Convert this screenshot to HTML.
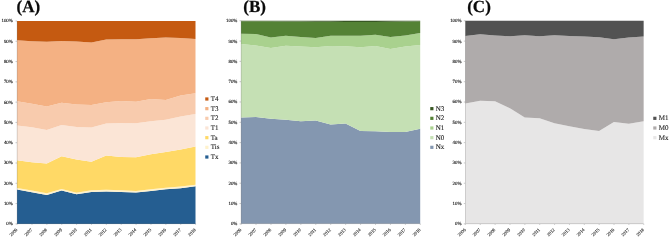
<!DOCTYPE html><html><head><meta charset="utf-8"><title>Figure</title><style>html,body{margin:0;padding:0;background:#fff}svg{display:block}text{font-family:"Liberation Serif",serif;text-rendering:geometricPrecision}.s{stroke:#1a1a1a;stroke-width:.13}.t{stroke:#1a1a1a;stroke-width:.1}.x{stroke:#1a1a1a;stroke-width:.11}</style></head><body>
<svg width="671" height="240" viewBox="0 0 671 240">
<rect width="671" height="240" fill="#fff"/>
<path d="M15.50 223.85H17.00M15.50 203.56H17.00M15.50 183.28H17.00M15.50 163.00H17.00M15.50 142.71H17.00M15.50 122.42H17.00M15.50 102.14H17.00M15.50 81.86H17.00M15.50 61.57H17.00M15.50 41.28H17.00M15.50 21.00H17.00M17.10 223.75V224.85M31.98 223.75V224.85M46.85 223.75V224.85M61.73 223.75V224.85M76.60 223.75V224.85M91.47 223.75V224.85M106.35 223.75V224.85M121.22 223.75V224.85M136.10 223.75V224.85M150.97 223.75V224.85M165.85 223.75V224.85M180.72 223.75V224.85M195.60 223.75V224.85" fill="none" stroke="#888" stroke-width="0.45"/>
<polygon fill="#255E91" points="17.00,189.60 31.88,192.20 46.75,195.00 61.62,190.60 76.50,194.30 91.38,192.00 106.25,191.45 121.12,192.00 136.00,192.60 150.88,190.90 165.75,189.30 180.62,188.20 195.50,186.30 195.50,223.90 180.62,223.90 165.75,223.90 150.88,223.90 136.00,223.90 121.12,223.90 106.25,223.90 91.38,223.90 76.50,223.90 61.62,223.90 46.75,223.90 31.88,223.90 17.00,223.90"/>
<polygon fill="#FFF2CC" points="17.00,187.95 31.88,190.55 46.75,193.35 61.62,188.95 76.50,192.65 91.38,190.35 106.25,189.80 121.12,190.35 136.00,190.95 150.88,189.25 165.75,187.65 180.62,186.55 195.50,184.65 195.50,186.30 180.62,188.20 165.75,189.30 150.88,190.90 136.00,192.60 121.12,192.00 106.25,191.45 91.38,192.00 76.50,194.30 61.62,190.60 46.75,195.00 31.88,192.20 17.00,189.60"/>
<polygon fill="#FFD966" points="17.00,160.30 31.88,162.30 46.75,163.50 61.62,156.30 76.50,159.45 91.38,161.70 106.25,155.60 121.12,156.90 136.00,157.20 150.88,154.30 165.75,151.90 180.62,149.45 195.50,146.60 195.50,184.65 180.62,186.55 165.75,187.65 150.88,189.25 136.00,190.95 121.12,190.35 106.25,189.80 91.38,190.35 76.50,192.65 61.62,188.95 46.75,193.35 31.88,190.55 17.00,187.95"/>
<polygon fill="#FBE5D6" points="17.00,125.45 31.88,127.30 46.75,129.90 61.62,124.90 76.50,126.90 91.38,127.60 106.25,123.40 121.12,122.90 136.00,123.30 150.88,121.20 165.75,119.70 180.62,116.45 195.50,113.90 195.50,146.60 180.62,149.45 165.75,151.90 150.88,154.30 136.00,157.20 121.12,156.90 106.25,155.60 91.38,161.70 76.50,159.45 61.62,156.30 46.75,163.50 31.88,162.30 17.00,160.30"/>
<polygon fill="#F8CBAD" points="17.00,101.30 31.88,103.70 46.75,106.60 61.62,102.70 76.50,104.45 91.38,104.90 106.25,102.30 121.12,100.90 136.00,101.70 150.88,98.90 165.75,99.90 180.62,95.60 195.50,93.20 195.50,113.90 180.62,116.45 165.75,119.70 150.88,121.20 136.00,123.30 121.12,122.90 106.25,123.40 91.38,127.60 76.50,126.90 61.62,124.90 46.75,129.90 31.88,127.30 17.00,125.45"/>
<polygon fill="#F4B183" points="17.00,40.30 31.88,41.30 46.75,41.70 61.62,41.00 76.50,41.45 91.38,42.45 106.25,39.60 121.12,39.30 136.00,39.30 150.88,38.20 165.75,37.45 180.62,37.90 195.50,38.90 195.50,93.20 180.62,95.60 165.75,99.90 150.88,98.90 136.00,101.70 121.12,100.90 106.25,102.30 91.38,104.90 76.50,104.45 61.62,102.70 46.75,106.60 31.88,103.70 17.00,101.30"/>
<polygon fill="#C55A11" points="17.00,21.00 31.88,21.00 46.75,21.00 61.62,21.00 76.50,21.00 91.38,21.00 106.25,21.00 121.12,21.00 136.00,21.00 150.88,21.00 165.75,21.00 180.62,21.00 195.50,21.00 195.50,38.90 180.62,37.90 165.75,37.45 150.88,38.20 136.00,39.30 121.12,39.30 106.25,39.60 91.38,42.45 76.50,41.45 61.62,41.00 46.75,41.70 31.88,41.30 17.00,40.30"/>
<path d="M17.20 21.00V223.70H195.50" fill="none" stroke="#7a7a7a" stroke-opacity=".36" stroke-width="0.8"/>
<text x="12.80" y="225.30" font-size="4.85" text-anchor="end" fill="#1a1a1a" class="s">0%</text>
<text x="12.80" y="205.01" font-size="4.85" text-anchor="end" fill="#1a1a1a" class="s">10%</text>
<text x="12.80" y="184.73" font-size="4.85" text-anchor="end" fill="#1a1a1a" class="s">20%</text>
<text x="12.80" y="164.44" font-size="4.85" text-anchor="end" fill="#1a1a1a" class="s">30%</text>
<text x="12.80" y="144.16" font-size="4.85" text-anchor="end" fill="#1a1a1a" class="s">40%</text>
<text x="12.80" y="123.88" font-size="4.85" text-anchor="end" fill="#1a1a1a" class="s">50%</text>
<text x="12.80" y="103.59" font-size="4.85" text-anchor="end" fill="#1a1a1a" class="s">60%</text>
<text x="12.80" y="83.31" font-size="4.85" text-anchor="end" fill="#1a1a1a" class="s">70%</text>
<text x="12.80" y="63.02" font-size="4.85" text-anchor="end" fill="#1a1a1a" class="s">80%</text>
<text x="12.80" y="42.73" font-size="4.85" text-anchor="end" fill="#1a1a1a" class="s">90%</text>
<text x="12.80" y="22.45" font-size="4.85" text-anchor="end" fill="#1a1a1a" class="s">100%</text>
<text transform="translate(17.70,230.10) rotate(-45)" font-size="4.55" text-anchor="end" fill="#1a1a1a" class="x">2006</text>
<text transform="translate(32.58,230.10) rotate(-45)" font-size="4.55" text-anchor="end" fill="#1a1a1a" class="x">2007</text>
<text transform="translate(47.45,230.10) rotate(-45)" font-size="4.55" text-anchor="end" fill="#1a1a1a" class="x">2008</text>
<text transform="translate(62.33,230.10) rotate(-45)" font-size="4.55" text-anchor="end" fill="#1a1a1a" class="x">2009</text>
<text transform="translate(77.20,230.10) rotate(-45)" font-size="4.55" text-anchor="end" fill="#1a1a1a" class="x">2010</text>
<text transform="translate(92.08,230.10) rotate(-45)" font-size="4.55" text-anchor="end" fill="#1a1a1a" class="x">2011</text>
<text transform="translate(106.95,230.10) rotate(-45)" font-size="4.55" text-anchor="end" fill="#1a1a1a" class="x">2012</text>
<text transform="translate(121.83,230.10) rotate(-45)" font-size="4.55" text-anchor="end" fill="#1a1a1a" class="x">2013</text>
<text transform="translate(136.70,230.10) rotate(-45)" font-size="4.55" text-anchor="end" fill="#1a1a1a" class="x">2014</text>
<text transform="translate(151.57,230.10) rotate(-45)" font-size="4.55" text-anchor="end" fill="#1a1a1a" class="x">2015</text>
<text transform="translate(166.45,230.10) rotate(-45)" font-size="4.55" text-anchor="end" fill="#1a1a1a" class="x">2016</text>
<text transform="translate(181.32,230.10) rotate(-45)" font-size="4.55" text-anchor="end" fill="#1a1a1a" class="x">2017</text>
<text transform="translate(196.20,230.10) rotate(-45)" font-size="4.55" text-anchor="end" fill="#1a1a1a" class="x">2018</text>
<text x="16.6" y="11.6" font-size="17" font-weight="bold" fill="#0a0a0a" stroke="#0a0a0a" stroke-width=".25">(A)</text>
<rect x="205.25" y="97.39" width="3.2" height="3.2" fill="#C55A11"/>
<text x="210.70" y="101.04" font-size="7" fill="#1a1a1a" class="t">T4</text>
<rect x="205.25" y="107.06" width="3.2" height="3.2" fill="#F4B183"/>
<text x="210.70" y="110.71" font-size="7" fill="#1a1a1a" class="t">T3</text>
<rect x="205.25" y="116.73" width="3.2" height="3.2" fill="#F8CBAD"/>
<text x="210.70" y="120.38" font-size="7" fill="#1a1a1a" class="t">T2</text>
<rect x="205.25" y="126.40" width="3.2" height="3.2" fill="#FBE5D6"/>
<text x="210.70" y="130.05" font-size="7" fill="#1a1a1a" class="t">T1</text>
<rect x="205.25" y="136.07" width="3.2" height="3.2" fill="#FFD966"/>
<text x="210.70" y="139.72" font-size="7" fill="#1a1a1a" class="t">Ta</text>
<rect x="205.25" y="145.74" width="3.2" height="3.2" fill="#FFF2CC"/>
<text x="210.70" y="149.39" font-size="7" fill="#1a1a1a" class="t">Tis</text>
<rect x="205.25" y="155.41" width="3.2" height="3.2" fill="#255E91"/>
<text x="210.70" y="159.06" font-size="7" fill="#1a1a1a" class="t">Tx</text>
<path d="M239.50 223.85H241.00M239.50 203.54H241.00M239.50 183.23H241.00M239.50 162.92H241.00M239.50 142.61H241.00M239.50 122.30H241.00M239.50 101.99H241.00M239.50 81.68H241.00M239.50 61.37H241.00M239.50 41.06H241.00M239.50 20.75H241.00M241.10 223.75V224.85M256.03 223.75V224.85M270.97 223.75V224.85M285.90 223.75V224.85M300.83 223.75V224.85M315.77 223.75V224.85M330.70 223.75V224.85M345.63 223.75V224.85M360.57 223.75V224.85M375.50 223.75V224.85M390.43 223.75V224.85M405.37 223.75V224.85M420.30 223.75V224.85" fill="none" stroke="#888" stroke-width="0.45"/>
<polygon fill="#8497B0" points="241.00,117.60 255.93,116.90 270.87,118.70 285.80,119.70 300.73,121.20 315.67,120.60 330.60,124.45 345.53,123.45 360.47,130.90 375.40,131.30 390.33,131.90 405.27,132.00 420.20,128.70 420.20,223.80 405.27,223.80 390.33,223.80 375.40,223.80 360.47,223.80 345.53,223.80 330.60,223.80 315.67,223.80 300.73,223.80 285.80,223.80 270.87,223.80 255.93,223.80 241.00,223.80"/>
<polygon fill="#C5E0B4" points="241.00,44.00 255.93,45.50 270.87,48.00 285.80,45.70 300.73,46.50 315.67,47.30 330.60,46.10 345.53,46.20 360.47,47.30 375.40,45.90 390.33,49.00 405.27,46.60 420.20,45.00 420.20,128.70 405.27,132.00 390.33,131.90 375.40,131.30 360.47,130.90 345.53,123.45 330.60,124.45 315.67,120.60 300.73,121.20 285.80,119.70 270.87,118.70 255.93,116.90 241.00,117.60"/>
<polygon fill="#A9D18E" points="241.00,33.70 255.93,34.00 270.87,37.60 285.80,35.70 300.73,36.90 315.67,37.90 330.60,35.80 345.53,35.70 360.47,35.70 375.40,34.70 390.33,36.90 405.27,35.45 420.20,32.90 420.20,45.00 405.27,46.60 390.33,49.00 375.40,45.90 360.47,47.30 345.53,46.20 330.60,46.10 315.67,47.30 300.73,46.50 285.80,45.70 270.87,48.00 255.93,45.50 241.00,44.00"/>
<polygon fill="#548235" points="241.00,21.35 255.93,21.35 270.87,21.35 285.80,21.45 300.73,21.55 315.67,21.65 330.60,21.75 345.53,21.95 360.47,22.05 375.40,21.95 390.33,21.65 405.27,21.45 420.20,21.35 420.20,32.90 405.27,35.45 390.33,36.90 375.40,34.70 360.47,35.70 345.53,35.70 330.60,35.80 315.67,37.90 300.73,36.90 285.80,35.70 270.87,37.60 255.93,34.00 241.00,33.70"/>
<polygon fill="#385723" points="241.00,20.75 255.93,20.75 270.87,20.75 285.80,20.75 300.73,20.75 315.67,20.75 330.60,20.75 345.53,20.75 360.47,20.75 375.40,20.75 390.33,20.75 405.27,20.75 420.20,20.75 420.20,21.35 405.27,21.45 390.33,21.65 375.40,21.95 360.47,22.05 345.53,21.95 330.60,21.75 315.67,21.65 300.73,21.55 285.80,21.45 270.87,21.35 255.93,21.35 241.00,21.35"/>
<path d="M241.20 20.75V223.60H420.20" fill="none" stroke="#7a7a7a" stroke-opacity=".36" stroke-width="0.8"/>
<text x="237.40" y="225.30" font-size="4.85" text-anchor="end" fill="#1a1a1a" class="s">0%</text>
<text x="237.40" y="204.99" font-size="4.85" text-anchor="end" fill="#1a1a1a" class="s">10%</text>
<text x="237.40" y="184.68" font-size="4.85" text-anchor="end" fill="#1a1a1a" class="s">20%</text>
<text x="237.40" y="164.37" font-size="4.85" text-anchor="end" fill="#1a1a1a" class="s">30%</text>
<text x="237.40" y="144.06" font-size="4.85" text-anchor="end" fill="#1a1a1a" class="s">40%</text>
<text x="237.40" y="123.75" font-size="4.85" text-anchor="end" fill="#1a1a1a" class="s">50%</text>
<text x="237.40" y="103.44" font-size="4.85" text-anchor="end" fill="#1a1a1a" class="s">60%</text>
<text x="237.40" y="83.13" font-size="4.85" text-anchor="end" fill="#1a1a1a" class="s">70%</text>
<text x="237.40" y="62.82" font-size="4.85" text-anchor="end" fill="#1a1a1a" class="s">80%</text>
<text x="237.40" y="42.51" font-size="4.85" text-anchor="end" fill="#1a1a1a" class="s">90%</text>
<text x="237.40" y="22.20" font-size="4.85" text-anchor="end" fill="#1a1a1a" class="s">100%</text>
<text transform="translate(241.70,230.10) rotate(-45)" font-size="4.55" text-anchor="end" fill="#1a1a1a" class="x">2006</text>
<text transform="translate(256.63,230.10) rotate(-45)" font-size="4.55" text-anchor="end" fill="#1a1a1a" class="x">2007</text>
<text transform="translate(271.57,230.10) rotate(-45)" font-size="4.55" text-anchor="end" fill="#1a1a1a" class="x">2008</text>
<text transform="translate(286.50,230.10) rotate(-45)" font-size="4.55" text-anchor="end" fill="#1a1a1a" class="x">2009</text>
<text transform="translate(301.43,230.10) rotate(-45)" font-size="4.55" text-anchor="end" fill="#1a1a1a" class="x">2010</text>
<text transform="translate(316.37,230.10) rotate(-45)" font-size="4.55" text-anchor="end" fill="#1a1a1a" class="x">2011</text>
<text transform="translate(331.30,230.10) rotate(-45)" font-size="4.55" text-anchor="end" fill="#1a1a1a" class="x">2012</text>
<text transform="translate(346.23,230.10) rotate(-45)" font-size="4.55" text-anchor="end" fill="#1a1a1a" class="x">2013</text>
<text transform="translate(361.17,230.10) rotate(-45)" font-size="4.55" text-anchor="end" fill="#1a1a1a" class="x">2014</text>
<text transform="translate(376.10,230.10) rotate(-45)" font-size="4.55" text-anchor="end" fill="#1a1a1a" class="x">2015</text>
<text transform="translate(391.03,230.10) rotate(-45)" font-size="4.55" text-anchor="end" fill="#1a1a1a" class="x">2016</text>
<text transform="translate(405.97,230.10) rotate(-45)" font-size="4.55" text-anchor="end" fill="#1a1a1a" class="x">2017</text>
<text transform="translate(420.90,230.10) rotate(-45)" font-size="4.55" text-anchor="end" fill="#1a1a1a" class="x">2018</text>
<text x="243.35" y="11.6" font-size="17" font-weight="bold" fill="#0a0a0a" stroke="#0a0a0a" stroke-width=".25">(B)</text>
<rect x="430.25" y="107.06" width="3.2" height="3.2" fill="#385723"/>
<text x="435.70" y="110.71" font-size="7" fill="#1a1a1a" class="t">N3</text>
<rect x="430.25" y="116.73" width="3.2" height="3.2" fill="#548235"/>
<text x="435.70" y="120.38" font-size="7" fill="#1a1a1a" class="t">N2</text>
<rect x="430.25" y="126.40" width="3.2" height="3.2" fill="#A9D18E"/>
<text x="435.70" y="130.05" font-size="7" fill="#1a1a1a" class="t">N1</text>
<rect x="430.25" y="136.07" width="3.2" height="3.2" fill="#C5E0B4"/>
<text x="435.70" y="139.72" font-size="7" fill="#1a1a1a" class="t">N0</text>
<rect x="430.25" y="145.74" width="3.2" height="3.2" fill="#8497B0"/>
<text x="435.70" y="149.39" font-size="7" fill="#1a1a1a" class="t">Nx</text>
<path d="M463.80 223.85H465.30M463.80 203.54H465.30M463.80 183.24H465.30M463.80 162.94H465.30M463.80 142.63H465.30M463.80 122.33H465.30M463.80 102.02H465.30M463.80 81.72H465.30M463.80 61.41H465.30M463.80 41.11H465.30M463.80 20.80H465.30M465.40 223.75V224.85M480.26 223.75V224.85M495.12 223.75V224.85M509.99 223.75V224.85M524.85 223.75V224.85M539.71 223.75V224.85M554.58 223.75V224.85M569.44 223.75V224.85M584.30 223.75V224.85M599.16 223.75V224.85M614.02 223.75V224.85M628.89 223.75V224.85M643.75 223.75V224.85" fill="none" stroke="#888" stroke-width="0.45"/>
<polygon fill="#E7E6E6" points="465.30,103.60 480.16,100.70 495.02,101.30 509.89,108.20 524.75,117.45 539.61,118.20 554.48,123.30 569.34,126.30 584.20,129.00 599.06,130.90 613.92,121.90 628.79,123.70 643.65,121.20 643.65,223.90 628.79,223.90 613.92,223.90 599.06,223.90 584.20,223.90 569.34,223.90 554.48,223.90 539.61,223.90 524.75,223.90 509.89,223.90 495.02,223.90 480.16,223.90 465.30,223.90"/>
<polygon fill="#AFABAB" points="465.30,35.90 480.16,34.20 495.02,35.60 509.89,36.30 524.75,35.30 539.61,36.30 554.48,35.20 569.34,35.90 584.20,36.45 599.06,37.30 613.92,39.20 628.79,37.45 643.65,36.60 643.65,121.20 628.79,123.70 613.92,121.90 599.06,130.90 584.20,129.00 569.34,126.30 554.48,123.30 539.61,118.20 524.75,117.45 509.89,108.20 495.02,101.30 480.16,100.70 465.30,103.60"/>
<polygon fill="#525252" points="465.30,20.80 480.16,20.80 495.02,20.80 509.89,20.80 524.75,20.80 539.61,20.80 554.48,20.80 569.34,20.80 584.20,20.80 599.06,20.80 613.92,20.80 628.79,20.80 643.65,20.80 643.65,36.60 628.79,37.45 613.92,39.20 599.06,37.30 584.20,36.45 569.34,35.90 554.48,35.20 539.61,36.30 524.75,35.30 509.89,36.30 495.02,35.60 480.16,34.20 465.30,35.90"/>
<path d="M465.50 20.80V223.70H643.65" fill="none" stroke="#7a7a7a" stroke-opacity=".36" stroke-width="0.8"/>
<text x="461.50" y="225.30" font-size="4.85" text-anchor="end" fill="#1a1a1a" class="s">0%</text>
<text x="461.50" y="204.99" font-size="4.85" text-anchor="end" fill="#1a1a1a" class="s">10%</text>
<text x="461.50" y="184.69" font-size="4.85" text-anchor="end" fill="#1a1a1a" class="s">20%</text>
<text x="461.50" y="164.38" font-size="4.85" text-anchor="end" fill="#1a1a1a" class="s">30%</text>
<text x="461.50" y="144.08" font-size="4.85" text-anchor="end" fill="#1a1a1a" class="s">40%</text>
<text x="461.50" y="123.78" font-size="4.85" text-anchor="end" fill="#1a1a1a" class="s">50%</text>
<text x="461.50" y="103.47" font-size="4.85" text-anchor="end" fill="#1a1a1a" class="s">60%</text>
<text x="461.50" y="83.17" font-size="4.85" text-anchor="end" fill="#1a1a1a" class="s">70%</text>
<text x="461.50" y="62.86" font-size="4.85" text-anchor="end" fill="#1a1a1a" class="s">80%</text>
<text x="461.50" y="42.56" font-size="4.85" text-anchor="end" fill="#1a1a1a" class="s">90%</text>
<text x="461.50" y="22.25" font-size="4.85" text-anchor="end" fill="#1a1a1a" class="s">100%</text>
<text transform="translate(466.00,230.10) rotate(-45)" font-size="4.55" text-anchor="end" fill="#1a1a1a" class="x">2006</text>
<text transform="translate(480.86,230.10) rotate(-45)" font-size="4.55" text-anchor="end" fill="#1a1a1a" class="x">2007</text>
<text transform="translate(495.72,230.10) rotate(-45)" font-size="4.55" text-anchor="end" fill="#1a1a1a" class="x">2008</text>
<text transform="translate(510.59,230.10) rotate(-45)" font-size="4.55" text-anchor="end" fill="#1a1a1a" class="x">2009</text>
<text transform="translate(525.45,230.10) rotate(-45)" font-size="4.55" text-anchor="end" fill="#1a1a1a" class="x">2010</text>
<text transform="translate(540.31,230.10) rotate(-45)" font-size="4.55" text-anchor="end" fill="#1a1a1a" class="x">2011</text>
<text transform="translate(555.18,230.10) rotate(-45)" font-size="4.55" text-anchor="end" fill="#1a1a1a" class="x">2012</text>
<text transform="translate(570.04,230.10) rotate(-45)" font-size="4.55" text-anchor="end" fill="#1a1a1a" class="x">2013</text>
<text transform="translate(584.90,230.10) rotate(-45)" font-size="4.55" text-anchor="end" fill="#1a1a1a" class="x">2014</text>
<text transform="translate(599.76,230.10) rotate(-45)" font-size="4.55" text-anchor="end" fill="#1a1a1a" class="x">2015</text>
<text transform="translate(614.62,230.10) rotate(-45)" font-size="4.55" text-anchor="end" fill="#1a1a1a" class="x">2016</text>
<text transform="translate(629.49,230.10) rotate(-45)" font-size="4.55" text-anchor="end" fill="#1a1a1a" class="x">2017</text>
<text transform="translate(644.35,230.10) rotate(-45)" font-size="4.55" text-anchor="end" fill="#1a1a1a" class="x">2018</text>
<text x="467.2" y="11.6" font-size="17" font-weight="bold" fill="#0a0a0a" stroke="#0a0a0a" stroke-width=".25">(C)</text>
<rect x="653.25" y="116.73" width="3.2" height="3.2" fill="#525252"/>
<text x="658.70" y="120.38" font-size="7" fill="#1a1a1a" class="t">M1</text>
<rect x="653.25" y="126.40" width="3.2" height="3.2" fill="#AFABAB"/>
<text x="658.70" y="130.05" font-size="7" fill="#1a1a1a" class="t">M0</text>
<rect x="653.25" y="136.07" width="3.2" height="3.2" fill="#E7E6E6"/>
<text x="658.70" y="139.72" font-size="7" fill="#1a1a1a" class="t">Mx</text>
</svg></body></html>
